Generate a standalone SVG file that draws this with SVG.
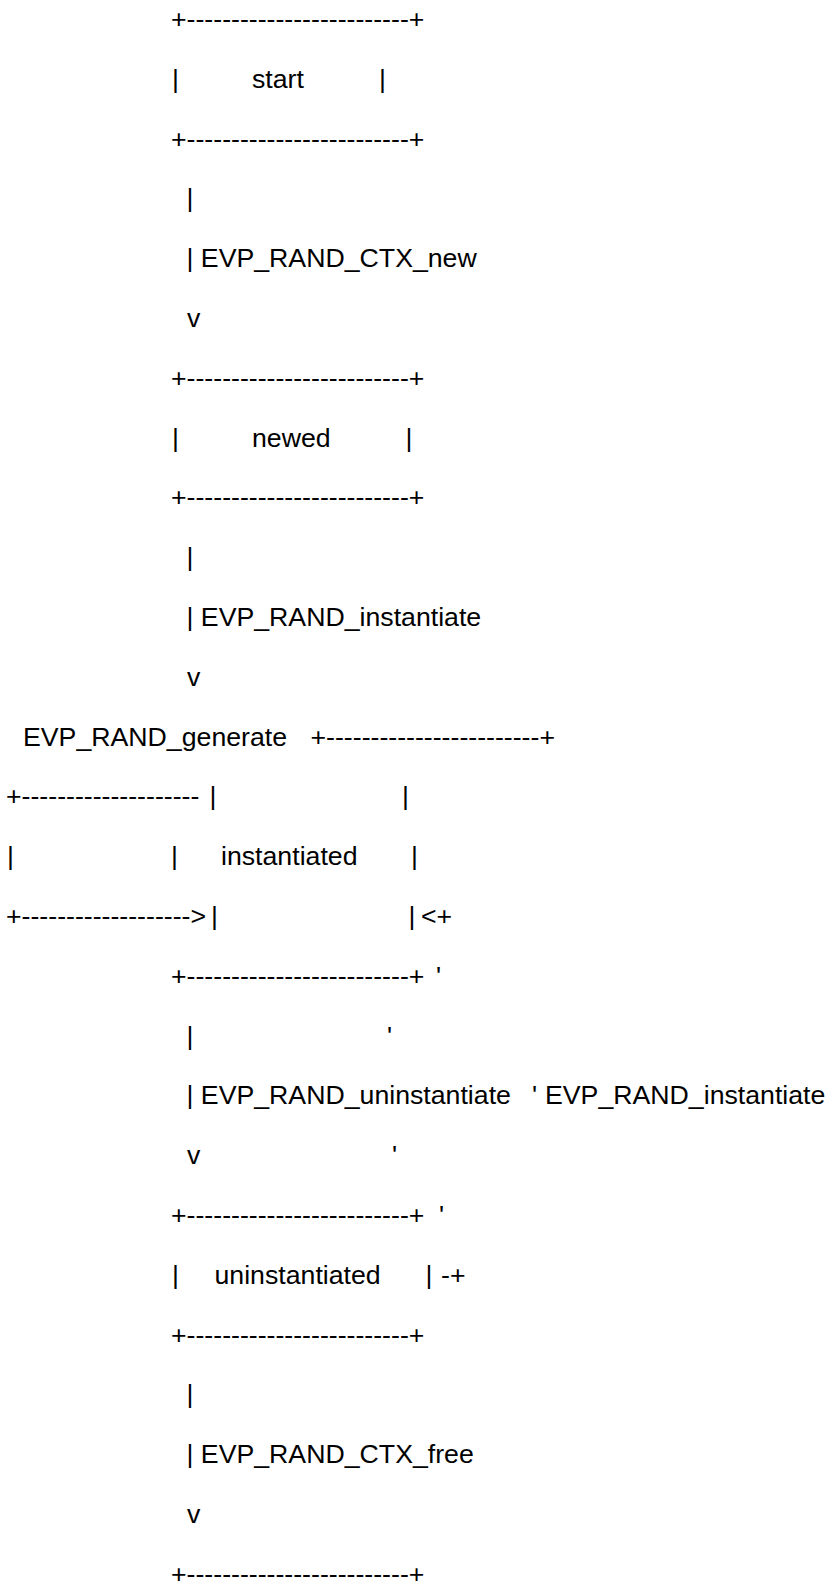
<svg xmlns="http://www.w3.org/2000/svg" width="828" height="1594" viewBox="0 0 828 1594">
<style>
text{font-family:"Liberation Sans",Arial,sans-serif;font-size:26.7px;fill:#000;white-space:pre}
</style>
<rect width="828" height="1594" fill="#fff"/>
<g id="node-start">
<text x="171" y="28">+-------------------------+</text>
<text x="172" y="87.8">|</text>
<text x="252" y="87.8">start</text>
<text x="379" y="87.8">|</text>
<text x="171" y="147.6">+-------------------------+</text>
</g>
<g id="node-newed">
<text x="171" y="386.8">+-------------------------+</text>
<text x="172" y="446.6">|</text>
<text x="252" y="446.6">newed</text>
<text x="405.5" y="446.6">|</text>
<text x="171" y="506.4">+-------------------------+</text>
</g>
<g id="node-instantiated">
<text x="310.5" y="745.6">+------------------------+</text>
<text x="209.5" y="805.4">|</text>
<text x="402" y="805.4">|</text>
<text x="171" y="865.2">|</text>
<text x="221" y="865.2">instantiated</text>
<text x="411" y="865.2">|</text>
<text x="211" y="925">|</text>
<text x="408.5" y="925">|</text>
<text x="171" y="984.8">+-------------------------+</text>
</g>
<g id="node-uninstantiated">
<text x="171" y="1224">+-------------------------+</text>
<text x="172" y="1283.8">|</text>
<text x="214.5" y="1283.8">uninstantiated</text>
<text x="425.5" y="1283.8">|</text>
<text x="171" y="1343.6">+-------------------------+</text>
</g>
<g id="node-freed">
<text x="171" y="1582.8">+-------------------------+</text>
</g>
<g id="connectors">
<text x="186.5" y="207.4">|</text>
<text x="186.5" y="267.2">| EVP_RAND_CTX_new</text>
<text x="187" y="327">v</text>
<text x="186.5" y="566.2">|</text>
<text x="186.5" y="626">| EVP_RAND_instantiate</text>
<text x="187" y="685.8">v</text>
<text x="23" y="745.6">EVP_RAND_generate</text>
<text x="6" y="805.4">+--------------------</text>
<text x="7" y="865.2">|</text>
<text x="6" y="925">+-------------------&gt;</text>
<text x="421" y="925">&lt;+</text>
<text x="436" y="984.8">'</text>
<text x="186.5" y="1044.6">|</text>
<text x="387" y="1044.6">'</text>
<text x="186.5" y="1104.4">| EVP_RAND_uninstantiate</text>
<text x="532" y="1104.4">'</text>
<text x="545" y="1104.4">EVP_RAND_instantiate</text>
<text x="187" y="1164.2">v</text>
<text x="392" y="1164.2">'</text>
<text x="439" y="1224">'</text>
<text x="441" y="1283.8">-+</text>
<text x="186.5" y="1403.2">|</text>
<text x="186.5" y="1463">| EVP_RAND_CTX_free</text>
<text x="187" y="1522.8">v</text>
</g>
</svg>
